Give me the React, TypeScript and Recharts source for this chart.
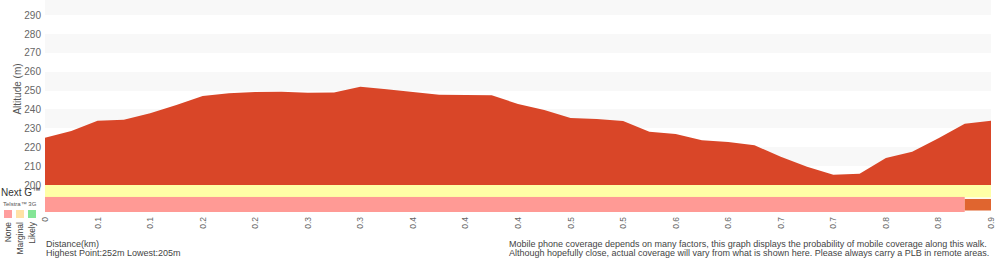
import React from 'react';
import { AreaChart, Area, XAxis, YAxis, CartesianGrid, BarChart, Bar, Cell } from 'recharts';

// ---- data ----
const distancesKm = [
  0, 0.025, 0.05, 0.075, 0.1, 0.125, 0.15, 0.175, 0.2, 0.225, 0.25, 0.275, 0.3,
  0.325, 0.35, 0.375, 0.4, 0.425, 0.45, 0.475, 0.5, 0.525, 0.55, 0.575, 0.6,
  0.625, 0.65, 0.675, 0.7, 0.725, 0.75, 0.775, 0.8, 0.825, 0.85, 0.875, 0.9,
];
const altitudesM = [
  225.0, 228.6, 234.1, 234.6, 238.0, 242.4, 247.1, 248.6, 249.3, 249.4, 248.9,
  249.0, 252.1, 250.7, 249.3, 247.8, 247.7, 247.5, 242.9, 239.7, 235.5, 235.0,
  233.9, 228.2, 227.0, 223.7, 222.8, 221.0, 215.0, 209.7, 205.4, 206.0, 214.3,
  217.6, 224.7, 232.5, 234.1,
];
const yTicks = [200, 210, 220, 230, 240, 250, 260, 270, 280, 290];
const xTickValues = [
  0, 0.05, 0.1, 0.15, 0.2, 0.25, 0.3, 0.35, 0.4, 0.45, 0.5, 0.55, 0.6, 0.65,
  0.7, 0.75, 0.8, 0.85, 0.9,
];
const xTickLabels = [
  '0', '0.1', '0.1', '0.2', '0.2', '0.3', '0.3', '0.4', '0.4', '0.4', '0.5',
  '0.5', '0.6', '0.6', '0.7', '0.7', '0.8', '0.8', '0.9',
];

// coverage: segment end distances (km) and level per network row
const coverageRows = ['Next G', 'Telstra 3G'];
const nextGSegEndKm = [0.9];
const nextGSegLevel = ['Marginal'];
const telstra3GSegEndKm = [0.875, 0.9];
const telstra3GSegLevel = ['None', 'Other'];

const legendLevels = ['None', 'Marginal', 'Likely'];

// ---- styles ----
const FONT = '"Liberation Sans", Arial, Helvetica, sans-serif';
const AREA_COLOR = '#D94628';
const BAND_COLORS: Record<string, string> = {
  None: '#FF9A95',
  Marginal: '#FFFFA6',
  Other: '#E0652F',
  '': 'transparent',
};
const LEGEND_COLORS = ['#FF9E9E', '#FFE2A6', '#84E596'];
const TEXT = '#555';
// fraction of the coverage strip taken by the first (Next G) row
const FIRST_ROW_FRACTION = 12 / 27;

const elevationData = distancesKm.map((km, i) => ({ km, alt: altitudesM[i] }));

function toLengths(ends: number[]) {
  return ends.map((e, i) => e - (i === 0 ? 0 : ends[i - 1]));
}
const nextGLen = toLengths(nextGSegEndKm);
const telLen = toLengths(telstra3GSegEndKm);
const coverageData = [
  { row: coverageRows[0], s0: nextGLen[0] ?? 0, s1: nextGLen[1] ?? 0 },
  { row: coverageRows[1], s0: telLen[0] ?? 0, s1: telLen[1] ?? 0 },
];
const s0Levels = [nextGSegLevel[0] ?? '', telstra3GSegLevel[0] ?? ''];
const s1Levels = [nextGSegLevel[1] ?? '', telstra3GSegLevel[1] ?? ''];

const highest = Math.round(Math.max(...altitudesM));
const lowest = Math.round(Math.min(...altitudesM));

const XTick = (props: any) => {
  const { x, y, payload, index } = props;
  let idx = xTickValues.findIndex((v) => Math.abs(v - Number(payload?.value)) < 1e-9);
  if (idx < 0 && typeof index === 'number') idx = index;
  return (
    <text
      x={x}
      y={y}
      transform={`rotate(-90 ${x} ${y})`}
      textAnchor="end"
      dy="0.35em"
      fontSize={8.5}
      fill="#666"
      fontFamily={FONT}
    >
      {String(xTickLabels[idx] ?? '')}
    </text>
  );
};

// resizes the two equal category bands into the reference's uneven row heights
function rowBox(y: number, height: number, index: number) {
  const total = height * 2;
  if (index === 0) {
    return { y, h: total * FIRST_ROW_FRACTION };
  }
  const top = y - height + total * FIRST_ROW_FRACTION;
  return { y: top, h: total * (1 - FIRST_ROW_FRACTION) };
}

const RowShape = (props: any) => {
  const { x, y, width, height, fill, index } = props;
  if (!width || width <= 0) return null;
  const b = rowBox(y, height, index);
  return <rect x={x} y={b.y} width={width} height={b.h} fill={fill} />;
};

const InsetShape = (props: any) => {
  const { x, y, width, height, fill, index } = props;
  if (!width || width <= 0) return null;
  const b = rowBox(y, height, index);
  return <rect x={x} y={b.y + 2} width={width} height={Math.max(0, b.h - 4)} fill={fill} />;
};

export default function App() {
  return (
    <div style={{ position: 'absolute', left: 0, top: 0, width: 1000, height: 260, background: '#fff', fontFamily: FONT }}>
      <div style={{ position: 'absolute', left: 0, top: 0 }}>
        <AreaChart width={1000} height={260} data={elevationData} margin={{ top: 0, right: 9, left: 0, bottom: 0 }}>
          <CartesianGrid vertical={false} stroke="none" horizontalFill={['#F8F8F8', '#FFFFFF']} fillOpacity={1} />
          <XAxis
            dataKey="km"
            type="number"
            domain={[0, 0.9]}
            ticks={xTickValues}
            interval={0}
            height={75}
            axisLine={false}
            tickLine={false}
            tickSize={0}
            tickMargin={32}
            tick={XTick}
          />
          <YAxis
            type="number"
            domain={[200, 298]}
            ticks={yTicks}
            width={45}
            axisLine={false}
            tickLine={false}
            tickSize={0}
            tickMargin={4}
            interval={0}
            allowDataOverflow
            tick={{ fontSize: 10, fill: '#666', fontFamily: FONT }}
            label={() => (
              <text
                x={21}
                y={89}
                transform="rotate(-90 21 89)"
                textAnchor="middle"
                fontSize={10}
                fill={TEXT}
                fontFamily={FONT}
              >
                Altitude (m)
              </text>
            )}
          />
          <Area
            type="linear"
            dataKey="alt"
            stroke="none"
            fill={AREA_COLOR}
            fillOpacity={1}
            baseValue={200}
            isAnimationActive={false}
          />
        </AreaChart>
      </div>
      <div style={{ position: 'absolute', left: 0, top: 185 }}>
        <BarChart
          width={1000}
          height={27}
          layout="vertical"
          data={coverageData}
          margin={{ top: 0, right: 9, left: 45, bottom: 0 }}
          barCategoryGap={0}
          barGap={0}
        >
          <YAxis type="category" dataKey="row" hide />
          <XAxis type="number" domain={[0, 0.9]} hide />
          <Bar dataKey="s0" stackId="c" isAnimationActive={false} shape={RowShape}>
            {coverageData.map((_, i) => (
              <Cell key={i} fill={BAND_COLORS[s0Levels[i]]} />
            ))}
          </Bar>
          <Bar dataKey="s1" stackId="c" isAnimationActive={false} shape={InsetShape}>
            {coverageData.map((_, i) => (
              <Cell key={i} fill={BAND_COLORS[s1Levels[i]]} />
            ))}
          </Bar>
        </BarChart>
      </div>
      <svg
        width={1000}
        height={260}
        style={{ position: 'absolute', left: 0, top: 0, pointerEvents: 'none' }}
        fontFamily={FONT}
      >
        <text x={1} y={196} fontSize={10} fill="#333">
          {coverageRows[0]}
          <tspan fontSize={8} dy={-3}>™</tspan>
        </text>
        <text x={3} y={206} fontSize={6} fill={TEXT}>
          Telstra™ 3G
        </text>
        {legendLevels.map((lv, i) => {
          const cx = 8 + i * 12;
          return (
            <g key={lv}>
              <rect x={cx - 4} y={210} width={8} height={8} fill={LEGEND_COLORS[i]} />
              <text
                x={cx}
                y={222}
                transform={`rotate(-90 ${cx} 222)`}
                textAnchor="end"
                dy="0.35em"
                fontSize={8.5}
                fill="#444"
              >
                {lv}
              </text>
            </g>
          );
        })}
        <text x={46} y={247} fontSize={9} fill="#444">Distance(km)</text>
        <text x={46} y={256} fontSize={9} fill="#444">
          {`Highest Point:${highest}m Lowest:${lowest}m`}
        </text>
        <text x={509} y={247} fontSize={9} fill="#444">
          Mobile phone coverage depends on many factors, this graph displays the probability of mobile coverage along this walk.
        </text>
        <text x={509} y={256} fontSize={9} fill="#444">
          Although hopefully close, actual coverage will vary from what is shown here. Please always carry a PLB in remote areas.
        </text>
      </svg>
    </div>
  );
}
